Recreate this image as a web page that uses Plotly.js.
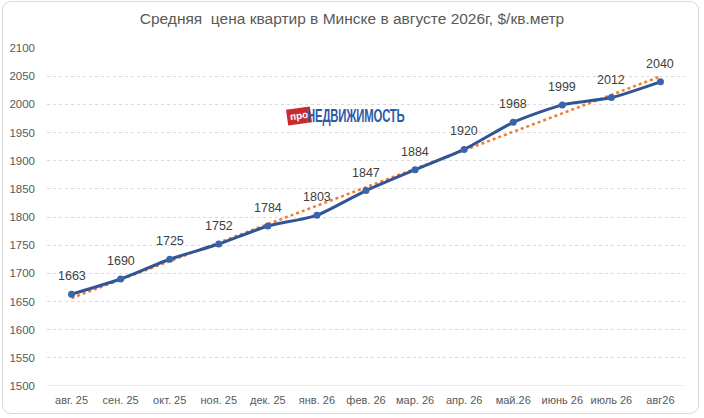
<!DOCTYPE html>
<html>
<head>
<meta charset="utf-8">
<script src="https://cdn.plot.ly/plotly-3.0.1.min.js"></script>
<style>
  html, body { margin: 0; padding: 0; background: #ffffff; }
  #frame { position: absolute; left: 2px; top: 1px; width: 697px; height: 413px; border: 1px solid #d9d9d9; border-radius: 9px; box-sizing: border-box; }
  #chart { position: absolute; left: 0; top: 0; width: 704px; height: 418px; }
  #logo { position: absolute; left: 287px; top: 106px; height: 22px; white-space: nowrap; }
  #logo .pro { position: absolute; left: 0; top: 2px; background: #C62B2E; color: #fff; font: bold 10px "Liberation Sans", Arial, sans-serif; padding: 2px 3px 3px 3px; transform: rotate(-8deg); }
  #logo .ned { position: absolute; left: 20px; top: 0px; color: #2E5AA6; font: bold 18px "Liberation Sans", Arial, sans-serif; transform: scaleX(0.63); transform-origin: left center; letter-spacing: -0.3px; }
</style>
</head>
<body>
<div id="frame"></div>
<div id="chart"></div>
<div id="logo"><span class="pro">про</span><span class="ned">НЕДВИЖИМОСТЬ</span></div>
<script>
// ---- data ----
const months = ["авг. 25", "сен. 25", "окт. 25", "ноя. 25", "дек. 25", "янв. 26", "фев. 26", "мар. 26", "апр. 26", "май.26", "июнь 26", "июль 26", "авг26"];
const prices = [1663, 1690, 1725, 1752, 1784, 1803, 1847, 1884, 1920, 1968, 1999, 2012, 2040];
const yTicks = [1500, 1550, 1600, 1650, 1700, 1750, 1800, 1850, 1900, 1950, 2000, 2050, 2100];
const titleText = "Средняя  цена квартир в Минске в августе 2026г, $/кв.метр";

// linear trendline (least squares fit of the series, as in the spreadsheet)
const n = prices.length;
const idx = prices.map((_, i) => i);
const mx = idx.reduce((a, b) => a + b, 0) / n;
const my = prices.reduce((a, b) => a + b, 0) / n;
let sxy = 0, sxx = 0;
idx.forEach((x, i) => { sxy += (x - mx) * (prices[i] - my); sxx += (x - mx) * (x - mx); });
const slope = sxy / sxx;
const icpt = my - slope * mx;
const trend = idx.map(x => icpt + slope * x);

const font = "Liberation Sans, Arial, sans-serif";

const traces = [
  {
    x: idx, y: trend, type: "scatter", mode: "lines",
    line: { color: "#ED7D31", width: 2.5, dash: "dot" },
    hoverinfo: "skip", showlegend: false
  },
  {
    x: idx, y: prices, type: "scatter", mode: "lines+markers",
    line: { color: "#2F5597", width: 3, shape: "spline", smoothing: 0.6 },
    marker: { color: "#3A65AE", size: 7 },
    showlegend: false
  }
];

const labelAnns = prices.map((v, i) => ({
  x: i, y: v, xref: "x", yref: "y", text: String(v), showarrow: false,
  yshift: 18, xanchor: "center", yanchor: "middle",
  font: { family: font, size: 12.5, color: "#404040" }
}));

const layout = {
  width: 704, height: 418,
  margin: { l: 47, r: 19, t: 48, b: 32 },
  paper_bgcolor: "rgba(0,0,0,0)", plot_bgcolor: "rgba(0,0,0,0)",
  title: { text: titleText, x: 0.5, xanchor: "center", y: 0.955, yanchor: "middle",
           font: { family: font, size: 15.5, color: "#595959" } },
  xaxis: {
    range: [-0.5, 12.5], tickmode: "array", tickvals: idx, ticktext: months,
    showgrid: false, zeroline: false, showline: false, ticks: "", ticklabelstandoff: 6,
    tickfont: { family: font, size: 11, color: "#595959" }, fixedrange: true
  },
  yaxis: {
    range: [1500, 2100], tickmode: "array", tickvals: yTicks, ticktext: yTicks.map(String),
    showgrid: true, gridcolor: "#d9d9d9", gridwidth: 1, griddash: "dot",
    zeroline: false, showline: false, ticks: "", ticklabelstandoff: 11,
    tickfont: { family: font, size: 11.5, color: "#595959" }, fixedrange: true
  },
  shapes: [
    { type: "line", xref: "paper", yref: "y", x0: 0, x1: 1, y0: 1500, y1: 1500,
      line: { color: "#d9d9d9", width: 1 } }
  ],
  annotations: labelAnns
};

Plotly.newPlot("chart", traces, layout, { displayModeBar: false, staticPlot: true });
</script>
</body>
</html>
